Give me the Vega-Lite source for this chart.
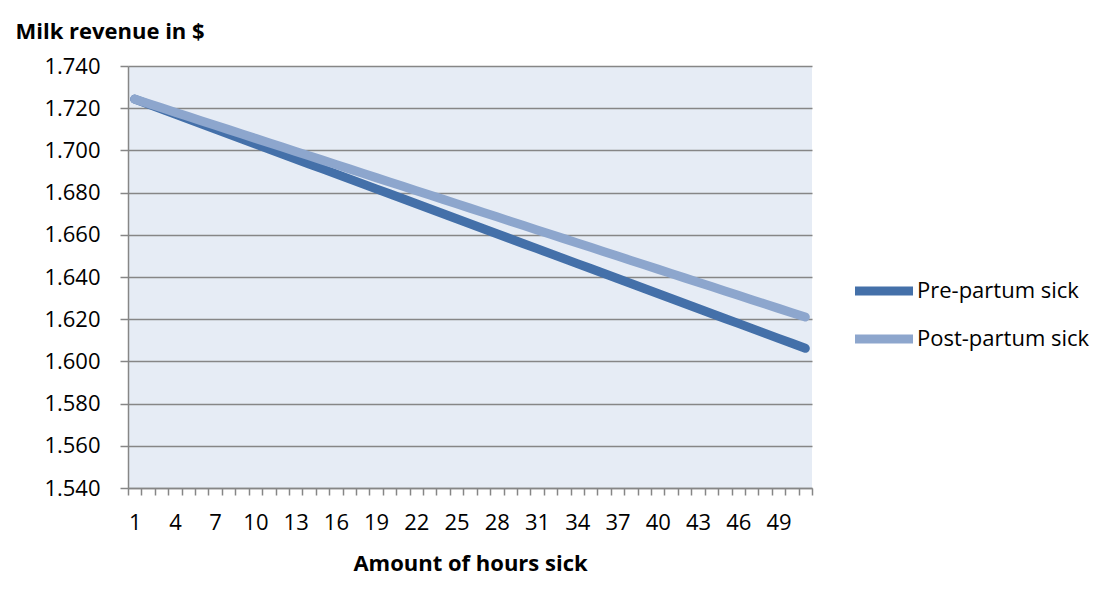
{
  "$schema": "https://vega.github.io/schema/vega-lite/v6.json",
  "width": 684,
  "height": 422,
  "autosize": {"type": "none"},
  "padding": {"left": 128, "top": 66, "right": 299, "bottom": 124},
  "background": "white",
  "config": {
    "font": "Open Sans",
    "view": {"fill": "#E6ECF5", "stroke": null},
    "axis": {"labelColor": "#000000", "titleColor": "#000000", "labelFont": "Open Sans", "titleFont": "Open Sans"}
  },
  "data": {
    "values": [
      {"hours": 1, "series": "Pre-partum sick", "revenue": 1.7243},
      {"hours": 2, "series": "Pre-partum sick", "revenue": 1.72194},
      {"hours": 3, "series": "Pre-partum sick", "revenue": 1.71958},
      {"hours": 4, "series": "Pre-partum sick", "revenue": 1.71721},
      {"hours": 5, "series": "Pre-partum sick", "revenue": 1.71485},
      {"hours": 6, "series": "Pre-partum sick", "revenue": 1.71249},
      {"hours": 7, "series": "Pre-partum sick", "revenue": 1.71013},
      {"hours": 8, "series": "Pre-partum sick", "revenue": 1.70777},
      {"hours": 9, "series": "Pre-partum sick", "revenue": 1.7054},
      {"hours": 10, "series": "Pre-partum sick", "revenue": 1.70304},
      {"hours": 11, "series": "Pre-partum sick", "revenue": 1.70068},
      {"hours": 12, "series": "Pre-partum sick", "revenue": 1.69832},
      {"hours": 13, "series": "Pre-partum sick", "revenue": 1.69596},
      {"hours": 14, "series": "Pre-partum sick", "revenue": 1.69359},
      {"hours": 15, "series": "Pre-partum sick", "revenue": 1.69123},
      {"hours": 16, "series": "Pre-partum sick", "revenue": 1.68887},
      {"hours": 17, "series": "Pre-partum sick", "revenue": 1.68651},
      {"hours": 18, "series": "Pre-partum sick", "revenue": 1.68414},
      {"hours": 19, "series": "Pre-partum sick", "revenue": 1.68178},
      {"hours": 20, "series": "Pre-partum sick", "revenue": 1.67942},
      {"hours": 21, "series": "Pre-partum sick", "revenue": 1.67706},
      {"hours": 22, "series": "Pre-partum sick", "revenue": 1.6747},
      {"hours": 23, "series": "Pre-partum sick", "revenue": 1.67234},
      {"hours": 24, "series": "Pre-partum sick", "revenue": 1.66997},
      {"hours": 25, "series": "Pre-partum sick", "revenue": 1.66761},
      {"hours": 26, "series": "Pre-partum sick", "revenue": 1.66525},
      {"hours": 27, "series": "Pre-partum sick", "revenue": 1.66289},
      {"hours": 28, "series": "Pre-partum sick", "revenue": 1.66052},
      {"hours": 29, "series": "Pre-partum sick", "revenue": 1.65816},
      {"hours": 30, "series": "Pre-partum sick", "revenue": 1.6558},
      {"hours": 31, "series": "Pre-partum sick", "revenue": 1.65344},
      {"hours": 32, "series": "Pre-partum sick", "revenue": 1.65108},
      {"hours": 33, "series": "Pre-partum sick", "revenue": 1.64872},
      {"hours": 34, "series": "Pre-partum sick", "revenue": 1.64635},
      {"hours": 35, "series": "Pre-partum sick", "revenue": 1.64399},
      {"hours": 36, "series": "Pre-partum sick", "revenue": 1.64163},
      {"hours": 37, "series": "Pre-partum sick", "revenue": 1.63927},
      {"hours": 38, "series": "Pre-partum sick", "revenue": 1.6369},
      {"hours": 39, "series": "Pre-partum sick", "revenue": 1.63454},
      {"hours": 40, "series": "Pre-partum sick", "revenue": 1.63218},
      {"hours": 41, "series": "Pre-partum sick", "revenue": 1.62982},
      {"hours": 42, "series": "Pre-partum sick", "revenue": 1.62746},
      {"hours": 43, "series": "Pre-partum sick", "revenue": 1.6251},
      {"hours": 44, "series": "Pre-partum sick", "revenue": 1.62273},
      {"hours": 45, "series": "Pre-partum sick", "revenue": 1.62037},
      {"hours": 46, "series": "Pre-partum sick", "revenue": 1.61801},
      {"hours": 47, "series": "Pre-partum sick", "revenue": 1.61565},
      {"hours": 48, "series": "Pre-partum sick", "revenue": 1.61328},
      {"hours": 49, "series": "Pre-partum sick", "revenue": 1.61092},
      {"hours": 50, "series": "Pre-partum sick", "revenue": 1.60856},
      {"hours": 51, "series": "Pre-partum sick", "revenue": 1.6062},
      {"hours": 1, "series": "Post-partum sick", "revenue": 1.7243},
      {"hours": 2, "series": "Post-partum sick", "revenue": 1.72223},
      {"hours": 3, "series": "Post-partum sick", "revenue": 1.72017},
      {"hours": 4, "series": "Post-partum sick", "revenue": 1.7181},
      {"hours": 5, "series": "Post-partum sick", "revenue": 1.71604},
      {"hours": 6, "series": "Post-partum sick", "revenue": 1.71397},
      {"hours": 7, "series": "Post-partum sick", "revenue": 1.7119},
      {"hours": 8, "series": "Post-partum sick", "revenue": 1.70984},
      {"hours": 9, "series": "Post-partum sick", "revenue": 1.70777},
      {"hours": 10, "series": "Post-partum sick", "revenue": 1.70571},
      {"hours": 11, "series": "Post-partum sick", "revenue": 1.70364},
      {"hours": 12, "series": "Post-partum sick", "revenue": 1.70157},
      {"hours": 13, "series": "Post-partum sick", "revenue": 1.69951},
      {"hours": 14, "series": "Post-partum sick", "revenue": 1.69744},
      {"hours": 15, "series": "Post-partum sick", "revenue": 1.69538},
      {"hours": 16, "series": "Post-partum sick", "revenue": 1.69331},
      {"hours": 17, "series": "Post-partum sick", "revenue": 1.69124},
      {"hours": 18, "series": "Post-partum sick", "revenue": 1.68918},
      {"hours": 19, "series": "Post-partum sick", "revenue": 1.68711},
      {"hours": 20, "series": "Post-partum sick", "revenue": 1.68505},
      {"hours": 21, "series": "Post-partum sick", "revenue": 1.68298},
      {"hours": 22, "series": "Post-partum sick", "revenue": 1.68091},
      {"hours": 23, "series": "Post-partum sick", "revenue": 1.67885},
      {"hours": 24, "series": "Post-partum sick", "revenue": 1.67678},
      {"hours": 25, "series": "Post-partum sick", "revenue": 1.67472},
      {"hours": 26, "series": "Post-partum sick", "revenue": 1.67265},
      {"hours": 27, "series": "Post-partum sick", "revenue": 1.67058},
      {"hours": 28, "series": "Post-partum sick", "revenue": 1.66852},
      {"hours": 29, "series": "Post-partum sick", "revenue": 1.66645},
      {"hours": 30, "series": "Post-partum sick", "revenue": 1.66439},
      {"hours": 31, "series": "Post-partum sick", "revenue": 1.66232},
      {"hours": 32, "series": "Post-partum sick", "revenue": 1.66025},
      {"hours": 33, "series": "Post-partum sick", "revenue": 1.65819},
      {"hours": 34, "series": "Post-partum sick", "revenue": 1.65612},
      {"hours": 35, "series": "Post-partum sick", "revenue": 1.65406},
      {"hours": 36, "series": "Post-partum sick", "revenue": 1.65199},
      {"hours": 37, "series": "Post-partum sick", "revenue": 1.64992},
      {"hours": 38, "series": "Post-partum sick", "revenue": 1.64786},
      {"hours": 39, "series": "Post-partum sick", "revenue": 1.64579},
      {"hours": 40, "series": "Post-partum sick", "revenue": 1.64373},
      {"hours": 41, "series": "Post-partum sick", "revenue": 1.64166},
      {"hours": 42, "series": "Post-partum sick", "revenue": 1.63959},
      {"hours": 43, "series": "Post-partum sick", "revenue": 1.63753},
      {"hours": 44, "series": "Post-partum sick", "revenue": 1.63546},
      {"hours": 45, "series": "Post-partum sick", "revenue": 1.6334},
      {"hours": 46, "series": "Post-partum sick", "revenue": 1.63133},
      {"hours": 47, "series": "Post-partum sick", "revenue": 1.62926},
      {"hours": 48, "series": "Post-partum sick", "revenue": 1.6272},
      {"hours": 49, "series": "Post-partum sick", "revenue": 1.62513},
      {"hours": 50, "series": "Post-partum sick", "revenue": 1.62307},
      {"hours": 51, "series": "Post-partum sick", "revenue": 1.621}
    ]
  },
  "encoding": {
    "x": {
      "field": "hours",
      "type": "quantitative",
      "scale": {"domain": [0.5, 51.5], "nice": false, "zero": false},
      "axis": {
        "values": [0.5, 1.5, 2.5, 3.5, 4.5, 5.5, 6.5, 7.5, 8.5, 9.5, 10.5, 11.5, 12.5, 13.5, 14.5, 15.5, 16.5, 17.5, 18.5, 19.5, 20.5, 21.5, 22.5, 23.5, 24.5, 25.5, 26.5, 27.5, 28.5, 29.5, 30.5, 31.5, 32.5, 33.5, 34.5, 35.5, 36.5, 37.5, 38.5, 39.5, 40.5, 41.5, 42.5, 43.5, 44.5, 45.5, 46.5, 47.5, 48.5, 49.5, 50.5, 51.5],
        "labelExpr": "(datum.value + 0.5) % 3 === 1 && datum.value < 51 ? format(datum.value + 0.5, 'd') : ''",
        "labelOffset": 6.7,
        "labelOverlap": false,
        "labelFlush": false,
        "labelBound": false,
        "labelFontSize": 22,
        "labelPadding": 17,
        "tickSize": 7,
        "tickColor": "#868686",
        "tickWidth": 1.5,
        "domainColor": "#868686",
        "domainWidth": 1.5,
        "grid": false,
        "title": "Amount of hours sick",
        "titleFontSize": 22,
        "titleFontWeight": "bold",
        "titleX": 342,
        "titleY": 82,
        "titleAlign": "center",
        "titleBaseline": "alphabetic"
      }
    },
    "y": {
      "field": "revenue",
      "type": "quantitative",
      "scale": {"domain": [1.54, 1.74], "nice": false, "zero": false},
      "axis": {
        "values": [1.54, 1.56, 1.58, 1.6, 1.62, 1.64, 1.66, 1.68, 1.7, 1.72, 1.74],
        "format": ".3f",
        "labelFontSize": 22,
        "labelPadding": 20,
        "tickSize": 8,
        "tickColor": "#868686",
        "tickWidth": 1.5,
        "domainColor": "#868686",
        "domainWidth": 1.5,
        "grid": true,
        "gridColor": "#868686",
        "gridWidth": 1.5,
        "title": "Milk revenue in $",
        "titleFontSize": 22,
        "titleFontWeight": "bold",
        "titleAngle": 0,
        "titleAlign": "left",
        "titleBaseline": "alphabetic",
        "titleX": -113,
        "titleY": -28
      }
    },
    "color": {
      "field": "series",
      "type": "nominal",
      "scale": {"domain": ["Pre-partum sick", "Post-partum sick"], "range": ["#4470A9", "#8DA6CD"]},
      "legend": {
        "title": null,
        "orient": "none",
        "legendX": 737,
        "legendY": 206,
        "padding": 0,
        "symbolType": "M-2,0H2",
        "symbolSize": 841,
        "symbolStrokeWidth": 9,
        "labelFontSize": 22,
        "labelColor": "#000000",
        "labelFont": "Open Sans",
        "labelOffset": 14,
        "labelLimit": 0,
        "rowPadding": 11
      }
    }
  },
  "layer": [
    {
      "transform": [{"filter": "datum.series === 'Pre-partum sick'"}],
      "mark": {"type": "line", "strokeWidth": 9, "strokeCap": "round", "strokeJoin": "round"}
    },
    {
      "transform": [{"filter": "datum.series === 'Post-partum sick'"}],
      "mark": {"type": "line", "strokeWidth": 9, "strokeCap": "round", "strokeJoin": "round"}
    }
  ]
}
